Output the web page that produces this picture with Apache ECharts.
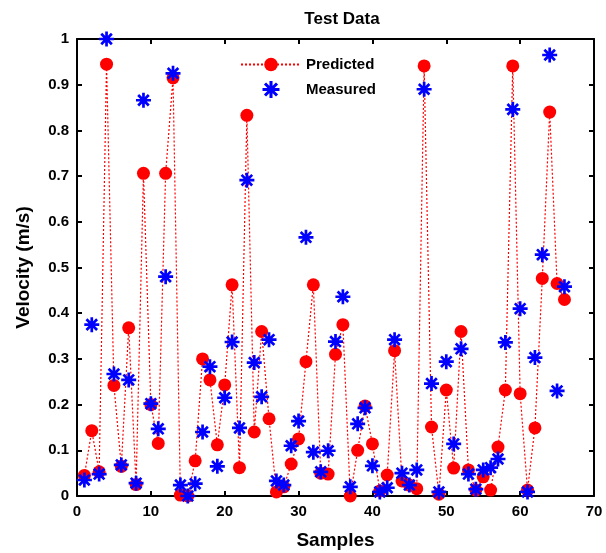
<!DOCTYPE html>
<html><head><meta charset="utf-8">
<script src="https://cdn.jsdelivr.net/npm/echarts@6/dist/echarts.min.js"></script>
<style>html,body{margin:0;padding:0;background:#fff}#c{width:606px;height:553px}</style>
</head><body><div id="c"></div>
<script>
const samples = [];
for (let i = 1; i <= 66; i++) samples.push(i);
const predicted = [0.045,0.143,0.053,0.945,0.242,0.065,0.368,0.025,0.706,0.2,
  0.115,0.706,0.915,0.002,0.0,0.077,0.30,0.254,0.112,0.243,
  0.462,0.062,0.833,0.14,0.36,0.169,0.009,0.02,0.07,0.125,
  0.294,0.462,0.05,0.048,0.31,0.375,0.0,0.1,0.197,0.114,
  0.011,0.046,0.318,0.033,0.024,0.016,0.941,0.151,0.004,0.232,
  0.061,0.36,0.057,0.013,0.042,0.013,0.107,0.232,0.941,0.224,
  0.013,0.149,0.476,0.84,0.465,0.43];
const measured = [0.035,0.375,0.048,1.0,0.267,0.068,0.254,0.028,0.866,0.202,
  0.147,0.48,0.925,0.024,0.0,0.027,0.14,0.283,0.065,0.215,
  0.337,0.149,0.691,0.292,0.217,0.342,0.033,0.024,0.11,0.164,
  0.566,0.096,0.053,0.099,0.338,0.436,0.02,0.158,0.193,0.066,
  0.009,0.018,0.342,0.05,0.024,0.057,0.89,0.246,0.009,0.294,
  0.114,0.322,0.048,0.015,0.057,0.062,0.081,0.336,0.846,0.41,
  0.009,0.303,0.528,0.965,0.23,0.458];
const xTicks = [0,10,20,30,40,50,60,70];
const yTicks = [0,0.1,0.2,0.3,0.4,0.5,0.6,0.7,0.8,0.9,1];

const FONT = 'Liberation Sans, Arial, sans-serif';
const star = 'path://M-10,-1.8L10,-1.8L10,1.8L-10,1.8Z' +
  'M-1.8,-10L1.8,-10L1.8,10L-1.8,10Z' +
  'M-5.8,-8.34L8.34,5.8L5.8,8.34L-8.34,-5.8Z' +
  'M-8.34,5.8L5.8,-8.34L8.34,-5.8L-5.8,8.34Z';
const chart = echarts.init(document.getElementById('c'));
const axisLine = {show:true, onZero:false, lineStyle:{color:'#000', width:2}};
const tick = {show:true, inside:true, length:5, lineStyle:{color:'#000', width:2}};
const lbl = {color:'#000', fontFamily:FONT, fontWeight:'bold', fontSize:15};
chart.setOption({
  animation:false,
  title:{text:'Test Data', left:337, textAlign:'center', top:6,
    textStyle:{fontFamily:FONT, fontWeight:'bold', fontSize:17, color:'#000'}},
  legend:{top:52, left:235, orient:'vertical', itemGap:9, itemWidth:60, itemHeight:17,
    textStyle:{fontFamily:FONT, fontWeight:'bold', fontSize:15, color:'#000'},
    data:[{name:'Predicted'},{name:'Measured', icon:star, itemStyle:{opacity:1}}]},
  grid:{left:77, right:12, top:39, bottom:57, outerBoundsMode:'none', containLabel:false},
  xAxis:[{type:'value', min:xTicks[0], max:xTicks[xTicks.length-1], interval:10,
    name:'Samples', nameLocation:'middle', nameGap:35,
    nameTextStyle:{fontFamily:FONT, fontWeight:'bold', fontSize:19, color:'#000'},
    axisLine:axisLine, axisTick:tick, splitLine:{show:false},
    axisLabel:Object.assign({margin:8}, lbl)},
   {type:'value', position:'top', min:0, max:70, interval:10,
    axisLine:axisLine, axisTick:tick, splitLine:{show:false}, axisLabel:{show:false}}],
  yAxis:[{type:'value', min:yTicks[0], max:yTicks[yTicks.length-1], interval:0.1,
    name:'Velocity (m/s)', nameLocation:'middle', nameGap:44,
    nameTextStyle:{fontFamily:FONT, fontWeight:'bold', fontSize:19, color:'#000'},
    axisLine:axisLine, axisTick:tick, splitLine:{show:false},
    axisLabel:Object.assign({margin:8, formatter:v=>String(+v.toFixed(1))}, lbl)},
   {type:'value', position:'right', min:0, max:1, interval:0.1,
    axisLine:axisLine, axisTick:tick, splitLine:{show:false}, axisLabel:{show:false}}],
  series:[
    {name:'Predicted', type:'line', data:samples.map((s,i)=>[s,predicted[i]]),
      symbol:'circle', symbolSize:13, showAllSymbol:true,
      lineStyle:{color:'#ff0000', width:1.2, type:[2,2]},
      itemStyle:{color:'#ff0000'}, z:2},
    {name:'Measured', type:'scatter', data:samples.map((s,i)=>[s,measured[i]]),
      symbol:star, symbolSize:15,
      itemStyle:{color:'#0000ff', opacity:1}, z:3}
  ]
});
</script></body></html>
